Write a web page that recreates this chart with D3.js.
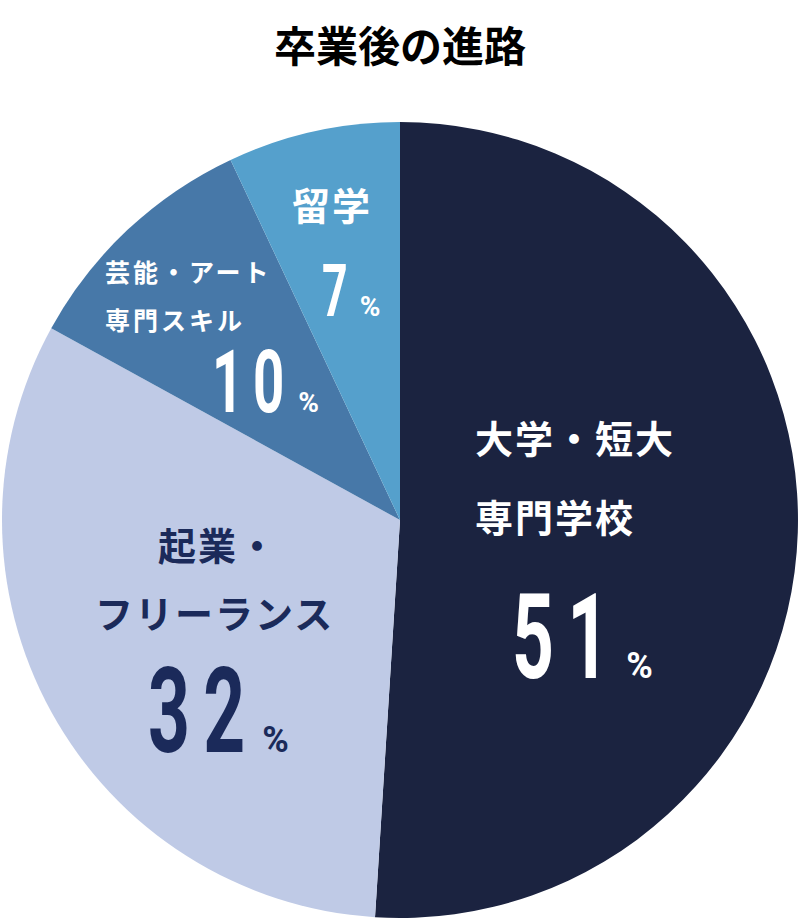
<!DOCTYPE html>
<html><head><meta charset="utf-8">
<script src="https://cdn.jsdelivr.net/npm/d3@7"></script>
<style>body{margin:0;background:#fff}</style>
</head><body>
<svg id="chart" width="800" height="920"></svg>
<script>
// chart data
const categories = ['大学・短大 専門学校', '起業・フリーランス', '芸能・アート専門スキル', '留学'];
const values = [51, 32, 10, 7];
const colors = ['#1b2340', '#bfcae6', '#4778a8', '#55a0cc'];
const labelLines = [['大学・短大', '専門学校'], ['起業・', 'フリーランス'], ['芸能・アート', '専門スキル'], ['留学']];

const svg = d3.select('#chart');
const cx = 400, cy = 520, r = 398;

svg.append('text')
  .attr('x', 400).attr('y', 62)
  .attr('text-anchor', 'middle')
  .attr('font-family', 'Noto Sans CJK JP')
  .attr('font-weight', 700).attr('font-size', 42)
  .text('卒業後の進路');

let pie = d3.pie().sort(null).value(d => d)(values);
let arc = d3.arc().innerRadius(0).outerRadius(r);

let g = svg.append('g').attr('transform', `translate(${cx},${cy})`);
g.selectAll('path').data(pie).enter().append('path')
  .attr('d', arc)
  .attr('fill', (d, i) => colors[i]);

// label layout per slice (text position only)
const layout = [
  {x: 475, y: [453, 532], fs: 38, nx: 512, ny: 678, ns: 118, ps: 36, fill: '#fff'},
  {x: 95, y: [560, 628], fs: 38, nx: 148, ny: 752, ns: 118, ps: 36, fill: '#1b2a5a', firstX: 158},
  {x: 105, y: [282, 330], fs: 25, nx: 212, ny: 412, ns: 88, ps: 28, fill: '#fff'},
  {x: 292, y: [220], fs: 38, nx: 322, ny: 316, ns: 72, ps: 28, fill: '#fff'}
];

layout.forEach((L, i) => {
  labelLines[i].forEach((t, j) => {
    svg.append('text')
      .attr('x', j === 0 && L.firstX ? L.firstX : L.x).attr('y', L.y[j])
      .attr('font-family', 'Noto Sans CJK JP').attr('font-weight', 700)
      .attr('font-size', L.fs).attr('fill', L.fill)
      .attr('letter-spacing', i === 2 ? 3 : 2)
      .text(t);
  });
  let num = svg.append('g').attr('transform', `translate(${L.nx},${L.ny}) scale(0.62,1)`);
  let nt = num.append('text')
    .attr('font-family', 'Roboto').attr('font-weight', 700)
    .attr('font-size', L.ns).attr('fill', L.fill)
    .attr('letter-spacing', L.ns * 0.18)
    .text(values[i]);
  let w = nt.node().getComputedTextLength() * 0.62;
  svg.append('text')
    .attr('x', L.nx + w + 4).attr('y', L.ny)
    .attr('font-family', 'Roboto').attr('font-weight', 700)
    .attr('font-size', L.ps).attr('fill', L.fill)
    .text('%');
});
</script>
</body></html>
